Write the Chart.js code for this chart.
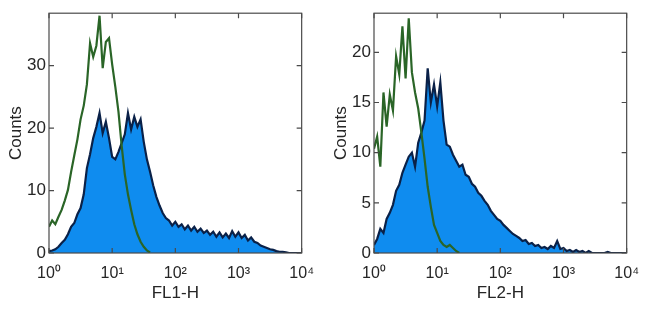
<!DOCTYPE html>
<html>
<head>
<meta charset="utf-8">
<script src="https://cdn.jsdelivr.net/npm/chart.js@4.4.1/dist/chart.umd.min.js"></script>
<style>
  html, body { margin: 0; padding: 0; background: #fff; }
  #wrap { position: relative; width: 650px; height: 309px; }
  canvas { position: absolute; top: 0; }
  #fl1 { left: 0; }
  #fl2 { left: 325px; }
</style>
</head>
<body>
<div id="wrap">
  <canvas id="fl1" width="325" height="309"></canvas>
  <canvas id="fl2" width="325" height="309"></canvas>
</div>
<script>
"use strict";

// bin positions, in decades (log10 of fluorescence)
const decades = [
  0, 0.05, 0.1, 0.15, 0.2, 0.25, 0.3, 0.35, 0.4, 0.45,
  0.5, 0.55, 0.6, 0.65, 0.7, 0.75, 0.8, 0.85, 0.9, 0.95,
  1, 1.05, 1.1, 1.15, 1.2, 1.25, 1.3, 1.35, 1.4, 1.45,
  1.5, 1.55, 1.6, 1.65, 1.7, 1.75, 1.8, 1.85, 1.9, 1.95,
  2, 2.05, 2.1, 2.15, 2.2, 2.25, 2.3, 2.35, 2.4, 2.45,
  2.5, 2.55, 2.6, 2.65, 2.7, 2.75, 2.8, 2.85, 2.9, 2.95,
  3, 3.05, 3.1, 3.15, 3.2, 3.25, 3.3, 3.35, 3.4, 3.45,
  3.5, 3.55, 3.6, 3.65, 3.7, 3.75, 3.8, 3.85, 3.9, 3.95, 4
];

const xTickLabels = ["10\u2070", "10\u00b9", "10\u00b2", "10\u00b3", "10\u2074"];

// FL1-H panel
const fl1Stained = [
  0.3, 0.4, 0.6, 1.0, 1.6, 2.1, 3.0, 4.2, 4.8, 6.2,
  7.2, 9.4, 13.6, 15.8, 18.4, 20.2, 22.4, 19.2, 21.0, 18.4,
  15.4, 15.0, 16.2, 17.6, 19.0, 22.4, 19.8, 21.8, 20.2, 21.4,
  17.8, 15.0, 13.0, 10.8, 9.0, 7.6, 6.4, 5.6, 5.2, 4.4,
  5.0, 4.2, 4.6, 3.8, 4.4, 3.6, 4.2, 3.4, 3.9, 3.2,
  3.6, 2.9, 3.4, 2.6, 3.3, 2.5, 3.1, 2.4, 3.5, 2.6,
  3.3, 2.4, 2.9, 2.0, 2.5, 1.8, 1.6, 1.2, 1.0, 0.8,
  0.6, 0.5, 0.3, 0.2, 0.2, 0.1, 0, 0, 0, 0, 0
];
const fl1Control = [
  4.2, 5.2, 4.6, 5.8, 6.9, 8.4, 10.1, 13.0, 15.6, 18.2,
  21.4, 23.6, 27.0, 33.6, 31.4, 33.2, 38.0, 29.6, 33.8, 34.4,
  30.2, 26.6, 22.6, 17.2, 12.6, 9.4, 6.9, 4.6, 3.0, 1.8,
  1.0, 0.4, 0.1
];
const fl1YTicks = [0, 10, 20, 30];

// FL2-H panel
const fl2Stained = [
  0.8, 1.4, 2.4, 2.0, 3.4, 4.0, 4.8, 6.2, 6.8, 8.0,
  8.8, 9.6, 10.0, 8.6, 11.0, 12.0, 13.2, 18.4, 15.0, 16.8,
  14.6, 17.0, 13.2, 10.8, 10.6, 9.8, 9.2, 8.6, 8.8, 7.8,
  7.6, 6.9, 6.6, 6.0, 5.7, 5.2, 4.8, 4.2, 3.8, 3.4,
  3.2, 2.8, 2.5, 2.2, 1.9, 1.7, 1.5, 1.2, 1.3, 0.9,
  1.0, 0.7, 0.8, 0.5, 0.6, 0.4, 0.7, 0.5, 1.2, 0.4,
  0.5, 0.2, 0.3, 0.1, 0.3, 0.1, 0.2, 0, 0.2, 0,
  0, 0, 0, 0, 0.1, 0, 0, 0, 0, 0, 0
];
const fl2Control = [
  10.4, 11.6, 8.6, 16.0, 12.6, 15.8, 14.2, 19.6, 17.8, 22.6,
  17.4, 23.4, 18.0, 16.0, 14.4, 12.0, 9.4, 6.6, 4.6, 2.8,
  2.0, 1.2, 0.8, 0.6, 0.8, 0.5, 0.2, 0
];
const fl2YTicks = [0, 5, 10, 15, 20];

const FONT = "'Liberation Sans', Arial, sans-serif";
const TEXT = "#262626";

function points(values) {
  return values.map((v, i) => ({ x: decades[i], y: v }));
}

// box round the plot with short inward ticks on all four sides
const framePlugin = {
  id: "frame",
  afterDatasetsDraw(chart) {
    const { ctx, chartArea: a, scales } = chart;
    const x = scales.x, y = scales.y;
    ctx.save();
    ctx.strokeStyle = "#4a4a4a";
    ctx.lineWidth = 1.2;
    ctx.strokeRect(a.left, a.top, a.right - a.left, a.bottom - a.top);
    ctx.beginPath();
    x.ticks.forEach(t => {
      const px = x.getPixelForValue(t.value);
      ctx.moveTo(px, a.bottom); ctx.lineTo(px, a.bottom - 5);
      ctx.moveTo(px, a.top); ctx.lineTo(px, a.top + 5);
    });
    y.ticks.forEach(t => {
      const py = y.getPixelForValue(t.value);
      ctx.moveTo(a.left, py); ctx.lineTo(a.left + 5, py);
      ctx.moveTo(a.right, py); ctx.lineTo(a.right - 5, py);
    });
    ctx.stroke();
    ctx.restore();
  }
};

function makePanel(id, stained, control, yMax, yTicks, xTitle) {
  return new Chart(document.getElementById(id), {
    type: "line",
    data: {
      datasets: [
        {
          label: "control",
          data: points(control),
          borderColor: "#2a6527",
          borderWidth: 2.2,
          fill: false,
          pointRadius: 0,
          tension: 0
        },
        {
          label: "stained",
          data: points(stained),
          borderColor: "#0a2148",
          borderWidth: 2.2,
          backgroundColor: "#0f8cef",
          fill: "origin",
          pointRadius: 0,
          tension: 0
        }
      ]
    },
    options: {
      responsive: false,
      animation: false,
      layout: { padding: { left: 0, right: 23, top: 13, bottom: 0 } },
      plugins: { legend: { display: false }, tooltip: { enabled: false } },
      scales: {
        x: {
          type: "linear",
          min: 0,
          max: 4,
          afterBuildTicks: s => { s.ticks = xTickLabels.map((_, i) => ({ value: i })); },
          afterFit: s => { s.height = 56; },
          grid: { display: false, drawTicks: false },
          border: { display: false },
          ticks: {
            padding: 11,
            maxRotation: 0,
            color: TEXT,
            font: { family: FONT, size: 16 },
            callback: v => xTickLabels[v]
          },
          title: {
            display: true,
            text: xTitle,
            color: TEXT,
            font: { family: FONT, size: 17 },
            padding: { top: 0, bottom: 5 }
          }
        },
        y: {
          min: 0,
          max: yMax,
          afterBuildTicks: s => { s.ticks = yTicks.map(v => ({ value: v })); },
          afterFit: s => { s.width = 49; },
          grid: { display: false, drawTicks: false },
          border: { display: false },
          ticks: {
            padding: 3,
            color: TEXT,
            font: { family: FONT, size: 17 }
          },
          title: {
            display: true,
            text: "Counts",
            color: TEXT,
            font: { family: FONT, size: 17 },
            padding: { top: 6, bottom: 0 }
          }
        }
      }
    },
    plugins: [framePlugin]
  });
}

makePanel("fl1", fl1Stained, fl1Control, 38.4, fl1YTicks, "FL1-H");
makePanel("fl2", fl2Stained, fl2Control, 23.9, fl2YTicks, "FL2-H");
</script>
</body>
</html>
